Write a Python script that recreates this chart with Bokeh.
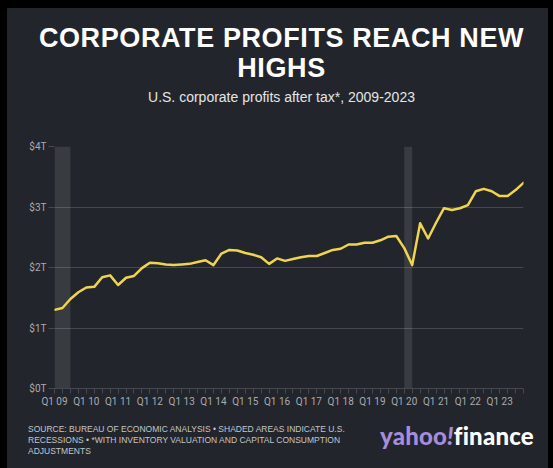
from bokeh.plotting import figure
from bokeh.layouts import column
from bokeh.models import Range1d, FixedTicker, BoxAnnotation, Div
from bokeh.embed import file_html
from bokeh.resources import INLINE

# ---- data (trillions of US$, quarterly Q1 2009 .. Q4 2023) ----
profits = [1.30, 1.33, 1.48, 1.59, 1.67, 1.68, 1.84, 1.87, 1.71, 1.83,
           1.86, 1.99, 2.08, 2.07, 2.05, 2.04, 2.05, 2.06, 2.09, 2.12,
           2.04, 2.23, 2.29, 2.28, 2.24, 2.21, 2.17, 2.06, 2.15, 2.11,
           2.14, 2.17, 2.19, 2.19, 2.24, 2.29, 2.31, 2.38, 2.38, 2.41,
           2.41, 2.45, 2.51, 2.52, 2.32, 2.04, 2.73, 2.48, 2.74, 2.98,
           2.95, 2.98, 3.03, 3.26, 3.30, 3.26, 3.18, 3.18, 3.28, 3.40]
quarter_index = list(range(len(profits)))
x_tick_labels = ["Q1 09", "Q1 10", "Q1 11", "Q1 12", "Q1 13", "Q1 14", "Q1 15",
                 "Q1 16", "Q1 17", "Q1 18", "Q1 19", "Q1 20", "Q1 21", "Q1 22", "Q1 23"]
x_tick_positions = [0, 4, 8, 12, 16, 20, 24, 28, 32, 36, 40, 44, 48, 52, 56]
y_ticks = [0, 1, 2, 3, 4]
y_tick_labels = ["$0T", "$1T", "$2T", "$3T", "$4T"]
recessions = [(0, 2), (44, 45)]  # quarter index start, end

title_lines = ["CORPORATE PROFITS REACH NEW", "HIGHS"]
subtitle = "U.S. corporate profits after tax*, 2009-2023"
footer = ["SOURCE: BUREAU OF ECONOMIC ANALYSIS \u2022 SHADED AREAS INDICATE U.S.",
          "RECESSIONS \u2022 *WITH INVENTORY VALUATION AND CAPITAL CONSUMPTION",
          "ADJUSTMENTS"]

BG = "#22252b"
GRID = "#45484e"
TICK_TXT = "#a9abb0"
W = 541

# ---- header ----
title_style = ("font-size:27px;font-weight:bold;line-height:30.2px;"
               "letter-spacing:0.6px;padding-left:8px;")
header_html = (
    f'<div style="width:{W}px;height:130px;background:{BG};box-sizing:border-box;'
    f'padding-top:15px;text-align:center;font-family:\'Liberation Sans\',Arial,sans-serif;'
    f'color:#ffffff;white-space:nowrap;">'
    f'<div style="{title_style}">{title_lines[0]}</div>'
    f'<div style="{title_style}">{title_lines[1]}</div>'
    f'<div style="font-size:14px;line-height:16px;margin-top:5.7px;color:#e4e5e7;padding-left:8px;">'
    f'{subtitle}</div></div>'
)
top = Div(text=header_html, width=W, height=130, margin=0,
          styles={"background-color": BG})

# ---- chart ----
p = figure(width=W, height=274, output_backend="svg", toolbar_location=None,
           x_range=Range1d(0, 59), y_range=Range1d(0, 4),
           min_border_left=47, min_border_right=25, min_border_top=8,
           min_border_bottom=24)
p.background_fill_color = BG
p.border_fill_color = BG
p.outline_line_color = None

for a, b in recessions:
    p.add_layout(BoxAnnotation(left=a, right=b, bottom=0, top=4,
                               fill_color="white", fill_alpha=0.1,
                               line_color=None, level="underlay"))

p.line(quarter_index, profits, line_color="#efd54f", line_width=2.5,
       line_join="round", line_cap="round")

p.xaxis.ticker = FixedTicker(ticks=x_tick_positions, minor_ticks=quarter_index)
p.xaxis.major_label_overrides = {t: l for t, l in zip(x_tick_positions, x_tick_labels)}
p.xaxis.axis_line_color = GRID
p.xaxis.major_tick_line_color = GRID
p.xaxis.minor_tick_line_color = GRID
p.xaxis.major_tick_in = 0
p.xaxis.major_tick_out = 5
p.xaxis.minor_tick_in = 0
p.xaxis.minor_tick_out = 5
p.xaxis.major_label_standoff = 2
p.xaxis.major_label_text_color = TICK_TXT
p.xaxis.major_label_text_font = "Roboto"
p.xaxis.major_label_text_font_size = "10px"

p.yaxis.ticker = FixedTicker(ticks=y_ticks)
p.yaxis.major_label_overrides = {t: l for t, l in zip(y_ticks, y_tick_labels)}
p.yaxis.axis_line_color = None
p.yaxis.major_tick_line_color = GRID
p.yaxis.major_tick_in = 0
p.yaxis.major_tick_out = 6
p.yaxis.minor_tick_line_color = None
p.yaxis.major_label_standoff = 2
p.yaxis.major_label_text_color = TICK_TXT
p.yaxis.major_label_text_font = "Roboto"
p.yaxis.major_label_text_font_size = "10px"

p.xgrid.grid_line_color = None
p.ygrid.grid_line_color = GRID
p.ygrid.grid_line_width = 1

# ---- footer ----
footer_html = (
    f'<div style="position:relative;width:{W}px;height:56px;background:{BG};'
    f'box-sizing:border-box;padding-top:12px;padding-left:21px;'
    f'font-family:\'Liberation Sans\',Arial,sans-serif;white-space:nowrap;">'
    f'<div style="font-size:8.5px;line-height:11px;color:#c4c6ca;">'
    f'{footer[0]}<br>{footer[1]}<br>{footer[2]}</div>'
    f'<div style="position:absolute;left:373px;top:12px;font-family:Lato,sans-serif;'
    f'font-size:24px;line-height:24px;font-weight:900;letter-spacing:0.2px;">'
    f'<span style="color:#a68ddc;">yahoo<i>!</i></span>'
    f'<span style="color:#ffffff;">finance</span></div></div>'
)
bot = Div(text=footer_html, width=W, height=56, margin=0,
          styles={"background-color": BG})

layout = column(top, p, bot, spacing=0, margin=(8, 0, 0, 7),
                styles={"background-color": BG})

try:
    from bokeh.models import GlobalInlineStyleSheet
    layout.stylesheets = [GlobalInlineStyleSheet(css="html, body { background: #000; }")]
except Exception:
    pass

open("out.html", "w").write(file_html(layout, INLINE))
